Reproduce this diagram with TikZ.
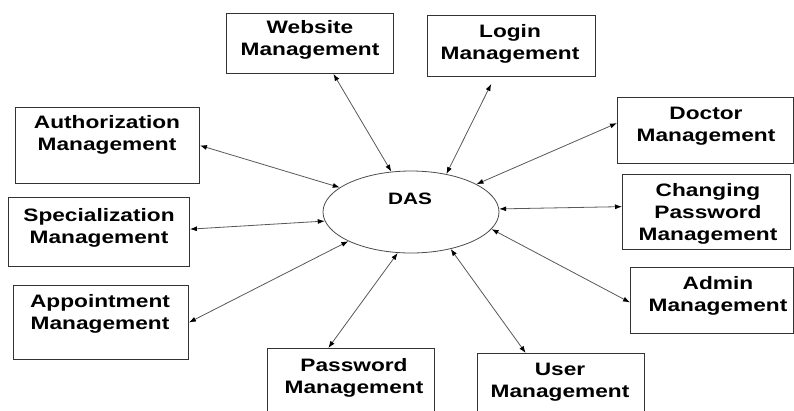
\documentclass[tikz,border=0pt]{standalone}
\usepackage{fontspec}
\setmainfont[FakeStretch=1.26]{Liberation Sans}
\usetikzlibrary{arrows.meta,calc,shapes.geometric}
\tikzset{
  box/.style={draw=black!80, line width=0.9pt, rectangle, inner sep=0pt, anchor=north west},
  lbl/.style={align=center, inner sep=0pt, anchor=north, font=\fontsize{18pt}{22pt}\selectfont\bfseries},
  link/.style={draw=black!65, line width=0.8pt, {Latex[length=7pt,width=5pt,color=black]}-{Latex[length=7pt,width=5pt,color=black]}},
}
\begin{document}
\begin{tikzpicture}[x=1pt,y=-1pt]
\clip (0,0) rectangle (794,410);
\fill[white] (0,0) rectangle (794,410);
% central process
\node[ellipse, draw=black!70, line width=0.8pt, minimum width=176pt, minimum height=82pt, inner sep=0pt] (das) at (411,212) {};
\node[inner sep=0pt, anchor=base, font=\fontsize{16.5pt}{20pt}\selectfont\bfseries] (dast) at (410,204) {DAS};
% boxes
\node[box, minimum width=167pt, minimum height=60pt] (web) at (226,13) {};
\node[box, minimum width=168pt, minimum height=61pt] (login) at (427,15) {};
\node[box, minimum width=176pt, minimum height=66pt] (doc) at (617,97) {};
\node[box, minimum width=168pt, minimum height=75pt] (chg) at (622,174) {};
\node[box, minimum width=163pt, minimum height=66pt] (adm) at (630,267) {};
\node[box, minimum width=167pt, minimum height=80pt] (usr) at (477,353) {};
\node[box, minimum width=167pt, minimum height=80pt] (pwd) at (267,348) {};
\node[box, minimum width=175pt, minimum height=74pt] (app) at (13,285) {};
\node[box, minimum width=181pt, minimum height=69pt] (spec) at (8,197) {};
\node[box, minimum width=184pt, minimum height=76pt] (auth) at (15,107) {};
% labels
\node[lbl] (webt) at (310,20) {Website\\Management};
\node[lbl] (logint) at (510,24) {Login\\Management};
\node[lbl] (doct) at (706,107) {Doctor\\Management};
\node[lbl] (chgt) at (708,183) {Changing\\Password\\Management};
\node[lbl] (admt) at (718,276) {Admin\\Management};
\node[lbl] (usrt) at (560,363) {User\\Management};
\node[lbl] (pwdt) at (354,358) {Password\\Management};
\node[lbl] (appt) at (100,294) {Appointment\\Management};
\node[lbl] (spect) at (99,208) {Specialization\\Management};
\node[lbl] (autht) at (107,115) {Authorization\\Management};
% connectors
\draw[link] (das.116.6) -- ($(web.south west)!0.64!(web.south east)$);
\draw[link] (das.47.2) -- ([yshift=-7pt]$(login.south west)!0.38!(login.south east)$);
\draw[link] (das.23.4) -- ($(doc.north west)!0.39!(doc.south west)$);
\draw[link] (das.2) -- ($(chg.north west)!0.43!(chg.south west)$);
\draw[link] (das.-12.5) -- ($(adm.north west)!0.53!(adm.south west)$);
\draw[link] (das.-43.6) -- ($(usr.north west)!0.29!(usr.north east)$);
\draw[link] (das.-108.9) -- ($(pwd.north west)!0.365!(pwd.north east)$);
\draw[link] (das.205.9) -- ($(app.north east)!0.5!(app.south east)$);
\draw[link] (das.186.8) -- ($(spec.north east)!0.46!(spec.south east)$);
\draw[link] (das.161.6) -- ($(auth.north east)!0.5!(auth.south east)$);
\end{tikzpicture}
\end{document}
